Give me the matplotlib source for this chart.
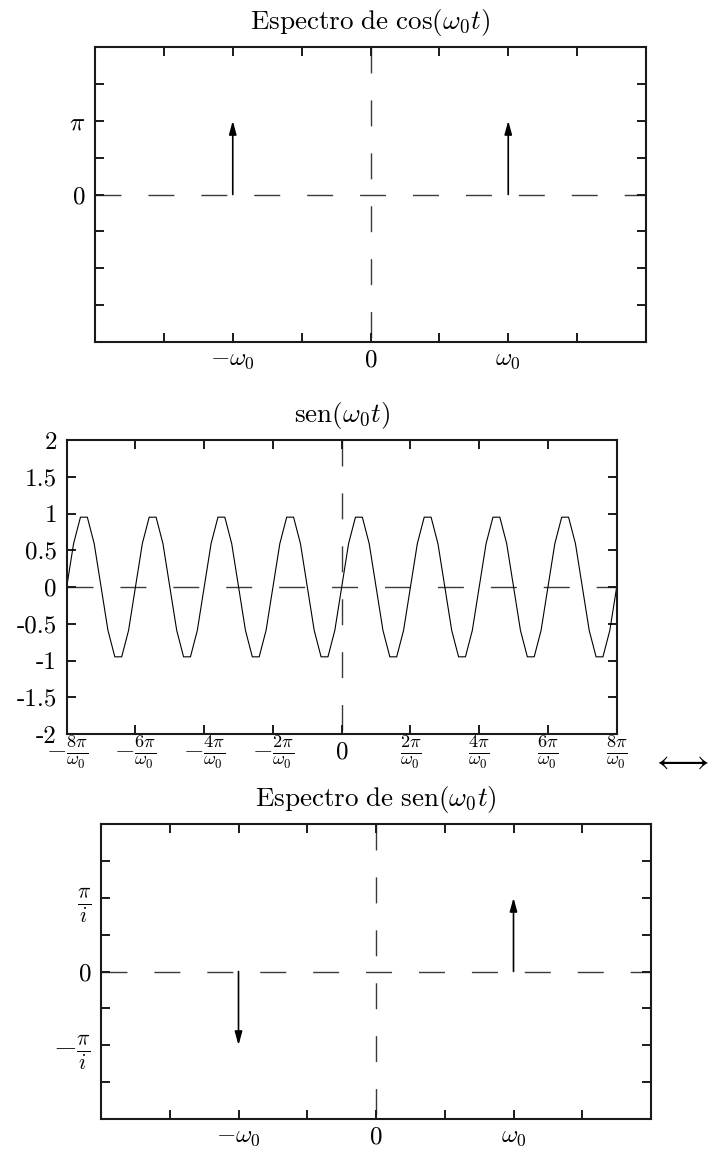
import numpy as np
import matplotlib
matplotlib.use("Agg")
import matplotlib.pyplot as plt

plt.rcParams['mathtext.fontset'] = 'cm'
plt.rcParams['font.family'] = ['cmr10', 'DejaVu Serif']
plt.rcParams['lines.scale_dashes'] = False
plt.rcParams['axes.formatter.use_mathtext'] = True

# ---------------- data ----------------
# Top: spectrum of cos(w0 t)  (x in units of w0, y in units of pi)
cos_freqs = [-1.0, 1.0]
cos_amps = [1.0, 1.0]
spec_xticks = [-2, -1.5, -1, -0.5, 0, 0.5, 1, 1.5, 2]
spec_xticklabels = ['', '', r'$-\omega_0$', '', r'$0$', '', r'$\omega_0$', '', '']
spec_yticks = [-2, -1.5, -1, -0.5, 0, 0.5, 1, 1.5, 2]
cos_yticklabels = ['', '', '', '', r'$0$', '', r'$\pi$', '', '']

# Middle: sen(w0 t) sampled (t in radians with w0 = 1)
t_samples = np.linspace(-8 * np.pi, 8 * np.pi, 81)
sen_values = [
    0, 0.59, 0.95, 0.95, 0.59, 0, -0.59, -0.95, -0.95, -0.59,
    0, 0.59, 0.95, 0.95, 0.59, 0, -0.59, -0.95, -0.95, -0.59,
    0, 0.59, 0.95, 0.95, 0.59, 0, -0.59, -0.95, -0.95, -0.59,
    0, 0.59, 0.95, 0.95, 0.59, 0, -0.59, -0.95, -0.95, -0.59,
    0, 0.59, 0.95, 0.95, 0.59, 0, -0.59, -0.95, -0.95, -0.59,
    0, 0.59, 0.95, 0.95, 0.59, 0, -0.59, -0.95, -0.95, -0.59,
    0, 0.59, 0.95, 0.95, 0.59, 0, -0.59, -0.95, -0.95, -0.59,
    0, 0.59, 0.95, 0.95, 0.59, 0, -0.59, -0.95, -0.95, -0.59,
    0,
]
time_xticks = [-8 * np.pi, -6 * np.pi, -4 * np.pi, -2 * np.pi, 0,
               2 * np.pi, 4 * np.pi, 6 * np.pi, 8 * np.pi]
time_xticklabels = [r'$-\frac{8\pi}{\omega_0}$', r'$-\frac{6\pi}{\omega_0}$',
                    r'$-\frac{4\pi}{\omega_0}$', r'$-\frac{2\pi}{\omega_0}$',
                    r'$0$',
                    r'$\frac{2\pi}{\omega_0}$', r'$\frac{4\pi}{\omega_0}$',
                    r'$\frac{6\pi}{\omega_0}$', r'$\frac{8\pi}{\omega_0}$']
time_yticks = [-2, -1.5, -1, -0.5, 0, 0.5, 1, 1.5, 2]
time_yticklabels = ['-2', '-1.5', '-1', '-0.5', '0', '0.5', '1', '1.5', '2']

# Bottom: spectrum of sen(w0 t)  (y in units of pi/i)
sen_freqs = [-1.0, 1.0]
sen_amps = [-1.0, 1.0]
sen_yticklabels = ['', '', r'$-\frac{\pi}{i}$', '', r'$0$', '', r'$\frac{\pi}{i}$', '', '']

titles = [r'$\mathrm{Espectro\ de\ cos}(\omega_0 t)$',
          r'$\mathrm{sen}(\omega_0 t)$',
          r'$\mathrm{Espectro\ de\ sen}(\omega_0 t)$']

# ---------------- figure ----------------
W, H = 709, 1151
fig = plt.figure(figsize=(W / 100, H / 100), dpi=100)

def px_axes(left, top, right, bottom):
    return fig.add_axes([left / W, 1 - bottom / H, (right - left) / W, (bottom - top) / H])

ax1 = px_axes(95, 47, 646, 342)
ax2 = px_axes(66.7, 440, 616.7, 734)
ax3 = px_axes(101, 824, 651, 1119)

FS = 18
TFS = 19.5
FRAC_FS = 19
DASH = (0, (18.7, 19.4))
dash_color = '#3a3a3a'

def style(ax):
    for s in ax.spines.values():
        s.set_linewidth(1.5)
        s.set_color('#1a1a1a')
    ax.tick_params(which='both', direction='in', top=True, right=True,
                   length=6.5, width=1.4, color='#1a1a1a', labelsize=FS)
    ax.tick_params(axis='x', pad=13)
    ax.tick_params(axis='y', pad=7)

def center_xlabels(ax):
    for lab in ax.get_xticklabels():
        lab.set_va('center')

def ref_lines(ax):
    x0, x1 = ax.get_xlim()
    y0, y1 = ax.get_ylim()
    ax.plot([x0, x1], [0, 0], color=dash_color, lw=1.0, linestyle=DASH, zorder=1)
    ax.plot([0, 0], [y1, y0], color=dash_color, lw=1.0, linestyle=DASH, zorder=1)

def arrows(ax, xs, amps):
    for x, a in zip(xs, amps):
        ax.annotate('', xy=(x, a), xytext=(x, 0),
                    arrowprops=dict(arrowstyle='-|>,head_length=0.8,head_width=0.22',
                                    color='black', lw=1.2, shrinkA=0, shrinkB=0,
                                    mutation_scale=10),
                    zorder=3)

# Top panel
ax1.set_xlim(-2, 2)
ax1.set_ylim(-2, 2)
ax1.set_xticks(spec_xticks)
ax1.set_xticklabels(spec_xticklabels)
ax1.set_yticks(spec_yticks)
ax1.set_yticklabels(cos_yticklabels)
style(ax1)
center_xlabels(ax1)
ref_lines(ax1)
arrows(ax1, cos_freqs, cos_amps)
ax1.set_title(titles[0], fontsize=TFS, pad=13)

# Middle panel
ax2.plot(t_samples, sen_values, color='black', lw=0.8, zorder=2)
ax2.set_xlim(-8 * np.pi, 8 * np.pi)
ax2.set_ylim(-2, 2)
ax2.set_xticks(time_xticks)
ax2.set_xticklabels(time_xticklabels)
ax2.set_yticks(time_yticks)
ax2.set_yticklabels(time_yticklabels)
style(ax2)
center_xlabels(ax2)
for lab in ax2.get_xticklabels():
    if 'frac' in lab.get_text():
        lab.set_fontsize(FRAC_FS)
ref_lines(ax2)
ax2.set_title(titles[1], fontsize=TFS, pad=13)
ax2.set_xlabel(r'$\longleftrightarrow$', fontsize=24, va='center', ha='center')
ax2.xaxis.set_label_coords(1.115, -0.092)

# Bottom panel
ax3.set_xlim(-2, 2)
ax3.set_ylim(-2, 2)
ax3.set_xticks(spec_xticks)
ax3.set_xticklabels(spec_xticklabels)
ax3.set_yticks(spec_yticks)
ax3.set_yticklabels(sen_yticklabels)
style(ax3)
center_xlabels(ax3)
for lab in ax3.get_yticklabels():
    if 'frac' in lab.get_text():
        lab.set_fontsize(22)
ref_lines(ax3)
arrows(ax3, sen_freqs, sen_amps)
ax3.set_title(titles[2], fontsize=TFS, pad=13)

fig.savefig('out.png', dpi=100)
